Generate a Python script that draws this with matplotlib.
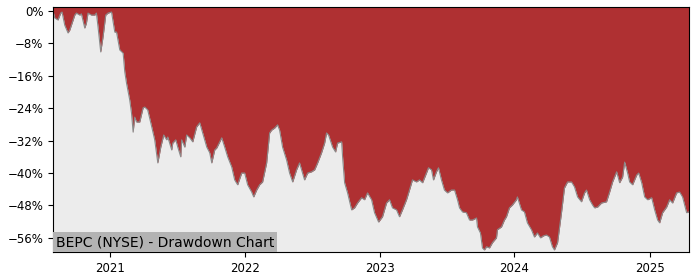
import matplotlib
matplotlib.use("Agg")
import matplotlib.pyplot as plt
from matplotlib.ticker import PercentFormatter, MultipleLocator
import matplotlib.dates as mdates
from datetime import datetime, timedelta

# Dates as decimal years, drawdown in percent
years = [
    2020.580, 2020.593, 2020.617, 2020.637, 2020.647, 2020.667, 2020.691, 2020.704,
    2020.716, 2020.741, 2020.753, 2020.778, 2020.790, 2020.815, 2020.827, 2020.839,
    2020.864, 2020.889, 2020.901, 2020.913, 2020.933, 2020.950, 2020.970, 2020.987,
    2021.013, 2021.037, 2021.050, 2021.074, 2021.099, 2021.111, 2021.124, 2021.148,
    2021.161, 2021.173, 2021.185, 2021.198, 2021.222, 2021.247, 2021.259, 2021.281,
    2021.311, 2021.333, 2021.356, 2021.378, 2021.400, 2021.422, 2021.430, 2021.459,
    2021.467, 2021.489, 2021.504, 2021.526, 2021.533, 2021.556, 2021.570, 2021.593,
    2021.615, 2021.644, 2021.667, 2021.689, 2021.719, 2021.741, 2021.756, 2021.778,
    2021.793, 2021.830, 2021.852, 2021.874, 2021.904, 2021.926, 2021.948, 2021.978,
    2022.000, 2022.022, 2022.052, 2022.067, 2022.089, 2022.111, 2022.133, 2022.163,
    2022.185, 2022.200, 2022.222, 2022.244, 2022.259, 2022.281, 2022.311, 2022.333,
    2022.356, 2022.385, 2022.407, 2022.444, 2022.467, 2022.496, 2022.519, 2022.541,
    2022.570, 2022.593, 2022.607, 2022.622, 2022.652, 2022.674, 2022.689, 2022.719,
    2022.726, 2022.741, 2022.763, 2022.793, 2022.815, 2022.837, 2022.867, 2022.889,
    2022.911, 2022.941, 2022.963, 2022.993, 2023.022, 2023.052, 2023.074, 2023.096,
    2023.126, 2023.148, 2023.170, 2023.200, 2023.222, 2023.244, 2023.274, 2023.296,
    2023.319, 2023.348, 2023.363, 2023.385, 2023.400, 2023.422, 2023.437, 2023.459,
    2023.481, 2023.504, 2023.533, 2023.556, 2023.578, 2023.593, 2023.615, 2023.644,
    2023.667, 2023.689, 2023.719, 2023.726, 2023.748, 2023.763, 2023.778, 2023.793,
    2023.815, 2023.837, 2023.867, 2023.874, 2023.904, 2023.926, 2023.941, 2023.963,
    2023.985, 2024.015, 2024.022, 2024.052, 2024.074, 2024.096, 2024.126, 2024.148,
    2024.170, 2024.193, 2024.215, 2024.237, 2024.259, 2024.281, 2024.296, 2024.319,
    2024.348, 2024.370, 2024.393, 2024.422, 2024.444, 2024.467, 2024.496, 2024.519,
    2024.533, 2024.556, 2024.578, 2024.593, 2024.615, 2024.644, 2024.681, 2024.704,
    2024.726, 2024.756, 2024.778, 2024.800, 2024.815, 2024.837, 2024.852, 2024.874,
    2024.904, 2024.919, 2024.941, 2024.963, 2024.985, 2025.015, 2025.037, 2025.059,
    2025.074, 2025.096, 2025.126, 2025.148, 2025.170, 2025.200, 2025.222, 2025.244,
    2025.274, 2025.289,
]
drawdown_pct = [
    0.0, -1.7, -2.2, -0.5, -0.25, -3.5, -5.4, -4.7,
    -3.5, -1.0, -0.5, -1.0, -0.7, -4.2, -3.0, -0.5,
    -1.0, -1.0, -0.5, -3.9, -10.1, -6.4, -1.0, -0.5,
    -0.25, -5.2, -5.2, -9.6, -10.4, -15.0, -17.8, -22.0,
    -25.2, -29.9, -26.2, -27.4, -27.4, -23.9, -23.7, -24.4,
    -28.6, -31.8, -37.5, -33.6, -30.6, -31.8, -31.1, -34.3,
    -32.6, -31.8, -33.6, -36.0, -31.8, -33.6, -30.6, -31.3,
    -32.3, -28.6, -27.6, -30.1, -33.6, -35.0, -37.5, -34.3,
    -33.8, -31.3, -33.6, -36.0, -38.5, -41.7, -42.9, -40.0,
    -40.0, -42.9, -44.7, -45.9, -44.2, -42.9, -42.2, -37.5,
    -30.1, -29.4, -28.9, -28.1, -29.4, -33.6, -36.8, -40.0,
    -42.2, -39.2, -37.5, -41.7, -40.0, -39.7, -39.2, -37.5,
    -35.0, -32.6, -30.1, -30.6, -33.6, -34.8, -32.6, -32.3,
    -36.0, -42.4, -44.9, -49.1, -48.6, -47.4, -46.1, -46.6,
    -44.9, -46.6, -49.8, -52.1, -50.8, -47.4, -46.6, -48.6,
    -49.1, -50.8, -49.1, -46.6, -44.2, -41.7, -42.2, -41.7,
    -42.4, -40.0, -38.7, -39.2, -41.7, -39.7, -38.7, -41.7,
    -44.2, -44.9, -44.2, -44.2, -46.6, -48.6, -49.6, -49.8,
    -51.6, -51.6, -51.1, -53.3, -54.8, -58.5, -59.0, -58.2,
    -58.5, -57.2, -56.0, -54.0, -53.3, -51.6, -50.8, -48.6,
    -47.9, -46.6, -45.9, -49.1, -49.6, -52.3, -54.0, -55.8,
    -54.8, -56.0, -55.5, -55.3, -55.8, -58.2, -59.0, -57.2,
    -49.8, -43.7, -42.2, -42.2, -43.4, -45.9, -47.1, -44.9,
    -44.2, -46.6, -47.9, -48.6, -48.4, -47.4, -47.1, -44.7,
    -42.2, -39.7, -42.4, -41.0, -37.3, -40.0, -42.2, -42.9,
    -40.5, -40.0, -42.4, -45.9, -46.6, -46.1, -49.1, -51.6,
    -52.3, -49.8, -48.4, -46.6, -47.4, -44.9, -44.7, -45.9,
    -49.8, -49.6,
]
title_text = "BEPC (NYSE) - Drawdown Chart"


def to_date(y):
    yr = int(y)
    start = datetime(yr, 1, 1)
    days = (datetime(yr + 1, 1, 1) - start).days
    return start + timedelta(days=(y - yr) * days)


dates = [to_date(y) for y in years]
dd = [v / 100.0 for v in drawdown_pct]

fig = plt.figure(figsize=(7, 2.8), dpi=100)
ax = fig.add_axes([0.0757, 0.1, 0.9086, 0.875])
ax.set_facecolor("#ececec")

ax.fill_between(dates, dd, 0.05, color="#af3032", linewidth=0)
ax.plot(dates, dd, color="#8a8a8a", linewidth=0.8)

ax.set_ylim(-0.595, 0.01)
ax.set_xlim(dates[0], dates[-1] + timedelta(days=1))

ax.yaxis.set_major_locator(MultipleLocator(0.08))
ax.yaxis.set_major_formatter(PercentFormatter(1.0, decimals=0))
ax.xaxis.set_major_locator(mdates.YearLocator())
ax.xaxis.set_major_formatter(mdates.DateFormatter("%Y"))
ax.tick_params(labelsize=8.5, length=3.5)

ax.text(0.004, 0.012, title_text, transform=ax.transAxes, fontsize=10,
        ha="left", va="bottom",
        bbox=dict(facecolor="#b3b3b3", edgecolor="none", pad=2.0))

fig.savefig("out.png", dpi=100)
